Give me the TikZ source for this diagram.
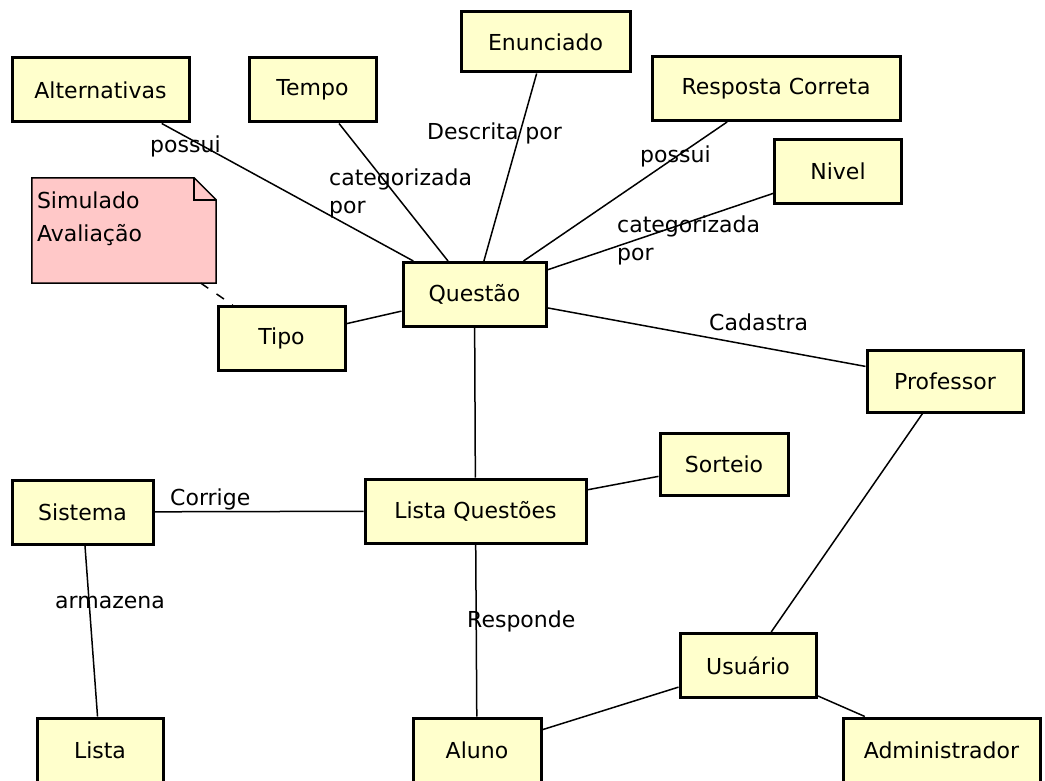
\documentclass[tikz,border=0pt]{standalone}
\usepackage{fontspec}
\setmainfont{DejaVu Sans}
\usetikzlibrary{backgrounds}

\definecolor{entityfill}{RGB}{255,255,204}
\definecolor{notefill}{RGB}{255,200,200}

\begin{document}
\begin{tikzpicture}[
    x = 1pt, y = -1pt, % pixel grid, y pointing down
    every node/.style={font=\fontsize{22}{28}\selectfont},
    entity/.style={rectangle, draw, line width=3pt, fill=entityfill,
      minimum height=64pt, inner sep=0pt},
    notebox/.style={rectangle, inner xsep=5pt, inner ysep=7.5pt,
      minimum width=184pt, minimum height=105pt},
    rel/.style={line width=1.5pt},
    lbl/.style={anchor=base west, inner sep=0pt},
    lbl2/.style={anchor=north west, inner sep=0pt, align=left}
  ]
  \useasboundingbox (0,0) rectangle (1045,781);
  \clip (0,0) rectangle (1045,781);

  % Nodes
  \node[entity, minimum width=177pt] (alternativas) at (100.5,90) {Alternativas};
  \node[entity, minimum width=127pt] (tempo) at (312.5,90) {Tempo};
  \node[entity, minimum width=169pt, minimum height=60pt] (enunciado) at (545.5,42) {Enunciado};
  \node[entity, minimum width=248pt] (resposta) at (776,88.5) {Resposta Correta};
  \node[entity, minimum width=127pt] (nivel) at (838,171.5) {Nivel};
  \node[entity, minimum width=143pt] (questao) at (474.5,294.5) {Questão};
  \node[entity, minimum width=127pt] (tipo) at (281.5,338.5) {Tipo};
  \node[entity, minimum width=156pt, minimum height=62pt] (professor) at (945,381) {Professor};
  \node[entity, minimum width=128pt, minimum height=62pt] (sorteio) at (724,464) {Sorteio};
  \node[entity, minimum width=141pt] (sistema) at (82.5,512) {Sistema};
  \node[entity, minimum width=221pt] (listaquestoes) at (475.5,511) {Lista Questões};
  \node[entity, minimum width=136pt] (usuario) at (748,665.5) {Usuário};
  \node[entity, minimum width=126pt] (lista) at (100,750) {Lista};
  \node[entity, minimum width=128pt] (aluno) at (477,750) {Aluno};
  \node[entity, minimum width=197pt] (administrador) at (941.5,750) {Administrador};

  % Note
  \node[notebox] (nota) at (124,230.5)
    {\parbox[t][90pt][t]{174pt}{\fontsize{22}{33}\selectfont\strut Simulado\\Avaliação}};
  \begin{pgfonlayer}{background}
    \draw[line width=1.5pt, fill=notefill] (nota.south west) -- (nota.north west)
      -- ([xshift=-22pt]nota.north east) -- ([yshift=-22pt]nota.north east)
      -- (nota.south east) -- cycle;
  \end{pgfonlayer}
  \draw[line width=1.5pt] ([xshift=-22pt]nota.north east) -- ++(0,22) -- ++(22,0);

  % Edges
  \path[rel]
    (alternativas) edge (questao)
    (tempo) edge (questao)
    (enunciado) edge (questao)
    (resposta) edge (questao)
    (nivel) edge (questao)
    (tipo) edge (questao)
    (questao) edge (professor)
    (questao) edge (listaquestoes)
    (listaquestoes) edge (sorteio)
    (sistema) edge (listaquestoes)
    (sistema) edge (lista)
    (listaquestoes) edge (aluno)
    (usuario) edge (aluno)
    (usuario) edge (administrador)
    (usuario) edge (professor);
  \draw[rel, dash pattern=on 9pt off 10pt] (nota) -- (tipo);

  % Labels
  \node[lbl] (lpossuialt) at (150,153) {possui};
  \node[lbl2] (lcattempo) at (329,169) {categorizada\\por};
  \node[lbl] (ldescrita) at (427,140) {Descrita por};
  \node[lbl] (lpossuiresp) at (640,163) {possui};
  \node[lbl2] (lcatnivel) at (617,216) {categorizada\\por};
  \node[lbl] (lcadastra) at (709,330) {Cadastra};
  \node[lbl] (lcorrige) at (170,505) {Corrige};
  \node[lbl] (larmazena) at (55,608) {armazena};
  \node[lbl] (lresponde) at (467,627) {Responde};
\end{tikzpicture}
\end{document}
